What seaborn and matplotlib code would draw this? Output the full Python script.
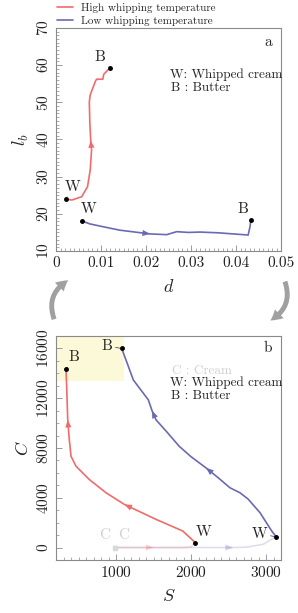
import numpy as np
import pandas as pd
import matplotlib
matplotlib.use("Agg")
import matplotlib.pyplot as plt
import seaborn as sns
from matplotlib.ticker import MultipleLocator
from matplotlib.lines import Line2D
from matplotlib.patches import FancyArrowPatch, Rectangle

# panel a: d vs l_b
d_high = [0.0022, 0.0035, 0.0057, 0.0070, 0.0076, 0.0079, 0.0077, 0.0075, 0.0074, 0.0076, 0.0087, 0.0090, 0.0104, 0.0106, 0.0120]
lb_high = [24.0, 23.7, 24.6, 27.3, 31.8, 37.2, 39.8, 45.0, 50.1, 52.0, 55.5, 56.2, 56.2, 57.5, 59.3]
d_low = [0.0057, 0.0075, 0.0098, 0.0142, 0.0209, 0.0246, 0.0268, 0.0295, 0.0320, 0.0360, 0.0394, 0.0427, 0.0431, 0.0433]
lb_low = [18.1, 17.3, 16.7, 15.6, 14.6, 14.4, 15.2, 15.0, 15.1, 14.9, 14.6, 14.3, 16.5, 18.3]

# panel b: S vs C
S_high = [2057, 1889, 1533, 1111, 867, 644, 467, 400, 377, 356, 342, 333]
C_high = [400, 1330, 2264, 3464, 4400, 5464, 6530, 7330, 8664, 10264, 12928, 14320]
S_low = [3133, 3076, 2920, 2760, 2653, 2520, 2364, 2200, 2000, 1844, 1676, 1533, 1480, 1431, 1231, 1076]
C_low = [880, 1330, 2800, 3900, 4400, 4800, 5600, 6400, 7300, 8128, 9300, 10264, 11000, 11864, 13464, 16000]
# cream -> whipped cream (faded)
S_cream_high = [987, 1500, 1900, 2000, 2057]
C_cream_high = [0, 0, 0, 60, 400]
S_cream_low = [987, 1500, 2000, 2560, 2742, 2963, 3133]
C_cream_low = [0, 0, 0, 0, 30, 260, 880]

red = "#f26b6b"
blue = "#6a6ab4"
gray = "#8a8a8a"

sns.set_style("ticks")
plt.rcParams["font.family"] = ["cmr10", "DejaVu Serif"]
plt.rcParams["mathtext.fontset"] = "cm"
plt.rcParams["axes.formatter.use_mathtext"] = True
plt.rcParams["axes.edgecolor"] = gray
plt.rcParams["xtick.color"] = gray
plt.rcParams["ytick.color"] = gray
plt.rcParams["xtick.labelcolor"] = "#222222"
plt.rcParams["ytick.labelcolor"] = "#222222"

fig = plt.figure(figsize=(2.98, 6.13), dpi=100)
ax1 = fig.add_axes([0.188, 0.5905, 0.755, 0.364])
ax2 = fig.add_axes([0.188, 0.0865, 0.755, 0.3654])


def draw(ax, x, y, color, alpha=1.0):
    df = pd.DataFrame({"x": x, "y": y})
    sns.lineplot(data=df, x="x", y="y", sort=False, color=color, lw=1.2,
                 alpha=alpha, ax=ax, estimator=None)


def head(ax, x, y, i, color, alpha=1.0):
    ax.annotate("", xy=(x[i + 1], y[i + 1]), xytext=(x[i], y[i]),
                arrowprops=dict(arrowstyle="-|>,head_length=0.5,head_width=0.2", color=color, lw=0,
                                mutation_scale=11, alpha=alpha, shrinkA=0, shrinkB=0))


def dot_label(ax, x, y, txt, tx, ty):
    ax.plot([x], [y], "o", color="black", ms=2.5, zorder=5)
    ax.annotate(txt, xy=(x, y), xytext=(tx, ty), fontsize=11, ha="center", va="center",
                arrowprops=dict(arrowstyle="-", color="black", lw=0.4,
                                shrinkA=5, shrinkB=1))


def style(ax):
    ax.tick_params(which="both", direction="in", top=False, right=False)
    ax.tick_params(which="major", length=4, width=0.6, labelsize=11)
    ax.tick_params(which="minor", length=2, width=0.5)
    ax.tick_params(axis="y", labelrotation=90)
    for t in ax.get_yticklabels():
        t.set_va("center")
    for s in ax.spines.values():
        s.set_linewidth(0.8)


# panel a
draw(ax1, d_high, lb_high, red)
draw(ax1, d_low, lb_low, blue)
head(ax1, d_high, lb_high, 5, red)
head(ax1, d_low, lb_low, 3, blue)
dot_label(ax1, d_high[0], lb_high[0], "W", 0.0037, 27.3)
dot_label(ax1, d_high[-1], lb_high[-1], "B", 0.0098, 62.2)
dot_label(ax1, d_low[0], lb_low[0], "W", 0.0073, 21.2)
dot_label(ax1, d_low[-1], lb_low[-1], "B", 0.0415, 21.2)
ax1.set_xlim(0, 0.05)
ax1.set_ylim(10, 70)
ax1.xaxis.set_minor_locator(MultipleLocator(0.001))
ax1.yaxis.set_major_locator(MultipleLocator(10))
ax1.yaxis.set_minor_locator(MultipleLocator(1))
ax1.set_xticks([0, 0.01, 0.02, 0.03, 0.04, 0.05], ["0", "0.01", "0.02", "0.03", "0.04", "0.05"])
ax1.set_xlabel("$d$", fontsize=13, labelpad=6)
ax1.set_ylabel("$l_b$", fontsize=13, labelpad=4)
ax1.text(0.942, 0.937, "a", transform=ax1.transAxes, fontsize=11, ha="center", va="center")
ax1.text(0.507, 0.789, "W: Whipped cream", transform=ax1.transAxes, fontsize=9.5, va="center")
ax1.text(0.513, 0.731, "B : Butter", transform=ax1.transAxes, fontsize=9.5, va="center")
style(ax1)

# panel b
ax2.add_patch(Rectangle((200, 13400), 900, 3600, color="#fcf9d9", lw=0, zorder=0))
draw(ax2, S_cream_high, C_cream_high, red, alpha=0.22)
draw(ax2, S_cream_low, C_cream_low, blue, alpha=0.22)
head(ax2, S_cream_high, C_cream_high, 0, red, alpha=0.3)
head(ax2, S_cream_low, C_cream_low, 2, blue, alpha=0.3)
draw(ax2, S_high, C_high, red)
draw(ax2, S_low, C_low, blue)
head(ax2, S_high, C_high, 2, red)
head(ax2, S_high, C_high, 8, red)
head(ax2, S_low, C_low, 6, blue)
head(ax2, S_low, C_low, 11, blue)
dot_label(ax2, S_high[0], C_high[0], "W", 2173, 1250)
dot_label(ax2, S_high[-1], C_high[-1], "B", 440, 15300)
dot_label(ax2, S_low[0], C_low[0], "W", 2910, 1064)
dot_label(ax2, S_low[-1], C_low[-1], "B", 876, 16176)
ax2.plot([S_cream_high[0]], [C_cream_high[0]], "s", color="#d8d8d8", ms=2.5, zorder=5)
for tx in (853, 1107):
    ax2.annotate("C", xy=(S_cream_high[0], C_cream_high[0]), xytext=(tx, 980),
                 fontsize=11, color="#d0d0d0", ha="center", va="center",
                 arrowprops=dict(arrowstyle="-", color="#dddddd", lw=0.4, shrinkA=5, shrinkB=1))
ax2.set_xlim(200, 3200)
ax2.set_ylim(-1000, 17000)
ax2.xaxis.set_major_locator(MultipleLocator(1000))
ax2.xaxis.set_minor_locator(MultipleLocator(100))
ax2.yaxis.set_major_locator(MultipleLocator(4000))
ax2.yaxis.set_minor_locator(MultipleLocator(1000))
ax2.set_xlabel("$S$", fontsize=13, labelpad=6)
ax2.set_ylabel("$C$", fontsize=13, labelpad=4)
ax2.text(0.942, 0.946, "b", transform=ax2.transAxes, fontsize=11, ha="center", va="center")
ax2.text(0.516, 0.844, "C : Cream", transform=ax2.transAxes, fontsize=9.5, va="center", color="#d0d0d0")
ax2.text(0.507, 0.790, "W: Whipped cream", transform=ax2.transAxes, fontsize=9.5, va="center")
ax2.text(0.513, 0.732, "B : Butter", transform=ax2.transAxes, fontsize=9.5, va="center")
style(ax2)

# legend
handles = [Line2D([], [], color=red, lw=1.2), Line2D([], [], color=blue, lw=1.2)]
fig.legend(handles, ["High whipping temperature", "Low whipping temperature"],
           loc="upper left", bbox_to_anchor=(0.165, 1.008), frameon=False, fontsize=8,
           handlelength=1.4, handletextpad=0.8, labelspacing=0.3, borderpad=0.2)

# gray arrows between panels
fig.patches.append(FancyArrowPatch((0.185, 0.475), (0.237, 0.545), transform=fig.transFigure,
                                   connectionstyle="arc3,rad=-0.45",
                                   arrowstyle="simple,head_width=9,head_length=8,tail_width=3.5",
                                   color="#a0a0a0", lw=0))
fig.patches.append(FancyArrowPatch((0.953, 0.545), (0.899, 0.475), transform=fig.transFigure,
                                   connectionstyle="arc3,rad=-0.45",
                                   arrowstyle="simple,head_width=9,head_length=8,tail_width=3.5",
                                   color="#a0a0a0", lw=0))

fig.savefig("out.png", dpi=100)
